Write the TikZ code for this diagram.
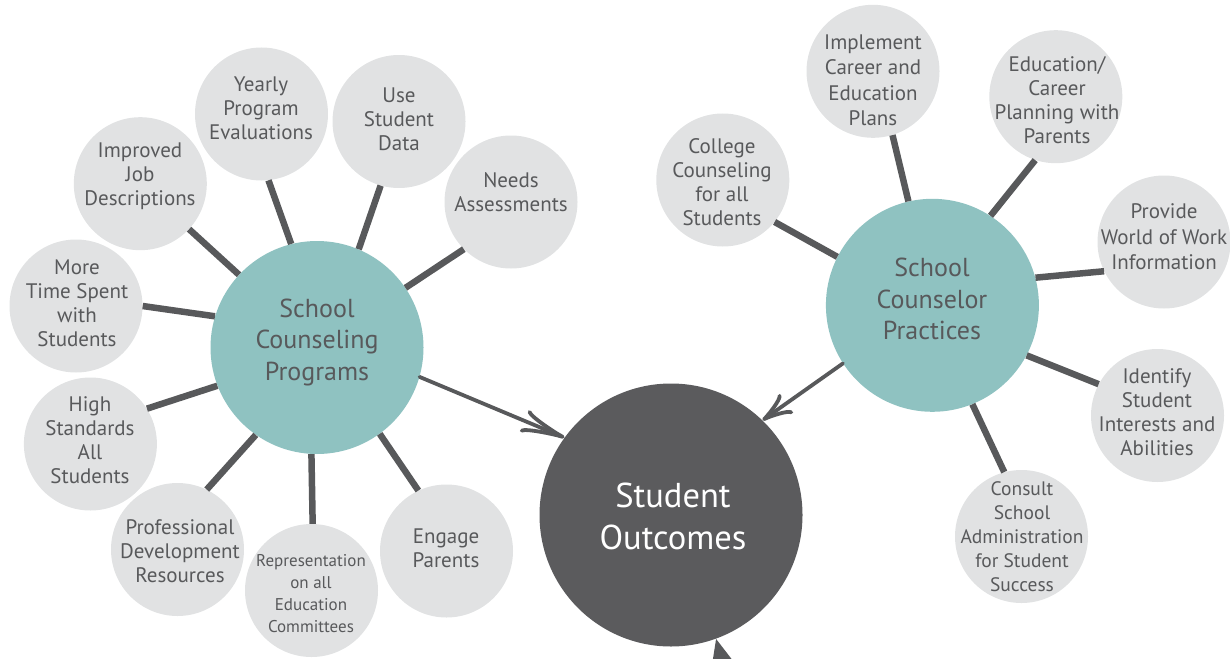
\documentclass[tikz,border=0pt]{standalone}
\usepackage{fontspec}
\setmainfont{PT Sans}
\usetikzlibrary{arrows.meta}
\definecolor{satfill}{HTML}{E1E2E3}
\definecolor{hubfill}{HTML}{8FC2C1}
\definecolor{outfill}{HTML}{5B5B5D}
\definecolor{ink}{HTML}{58595B}
\begin{document}
\begin{tikzpicture}[x=1pt,y=-1pt,
  sat/.style={circle,fill=satfill,minimum size=133pt,inner sep=0pt},
  hub/.style={circle,fill=hubfill,minimum size=213pt,inner sep=0pt},
  outc/.style={circle,fill=outfill,minimum size=263pt,inner sep=0pt},
  txt/.style={align=center,text=ink,inner sep=0pt,font=\fontsize{21}{24}\selectfont},
  txtw/.style={txt,font=\fontsize{21}{25.5}\selectfont},
  txts/.style={txt,font=\fontsize{17}{22}\selectfont},
  txtc/.style={txt,font=\fontsize{19.5}{24}\selectfont},
  hubtxt/.style={align=center,text=ink,inner sep=0pt,font=\fontsize{26}{31.5}\selectfont},
  outtxt/.style={align=center,text=white,inner sep=0pt,font=\fontsize{34.5}{42}\selectfont},
  spoke/.style={draw=ink,line width=6.5pt},
  arrL/.style={draw=ink,line width=3.8pt,line cap=round,-{Classical TikZ Rightarrow[length=44pt,width=24pt,line width=3.8pt]}},
  arrR/.style={draw=ink,line width=3.8pt,line cap=round,-{Classical TikZ Rightarrow[length=30pt,width=24pt,line width=3.8pt]}},
  arrB/.style={draw=ink,fill=ink,line width=4pt,-{Triangle[length=34pt,width=28pt]}}
]
\useasboundingbox (0,0) rectangle (1230,658);
\clip (0,0) rectangle (1230,658);

% hubs
\node[hub] (P) at (317,347.5) {};
\node[hub] (C) at (932.4,305.3) {};
\node[outc] (O) at (671,515) {};
\node[hubtxt] (P-t) at (317,342) {School\\Counseling\\Programs};
\node[hubtxt] (C-t) at (932,299) {School\\Counselor\\Practices};
\node[outtxt] (O-t) at (673,516) {Student\\Outcomes};

% left satellites
\node[sat] (imp) at (140.3,183.7) {};
\node[txt] (imp-t) at (140,176) {Improved\\Job\\Descriptions};
\node[sat] (yea) at (261.5,114) {};
\node[txt] (yea-t) at (261,108) {Yearly\\Program\\Evaluations};
\node[sat] (use) at (399,121.5) {};
\node[txt] (use-t) at (399,119) {Use\\Student\\Data};
\node[sat] (nee) at (511,202) {};
\node[txt] (nee-t) at (511,192) {Needs\\Assessments};
\node[sat] (mor) at (76,306) {};
\node[txt] (mor-t) at (77,303) {More\\Time Spent\\with\\Students};
\node[sat] (hig) at (90.4,444) {};
\node[txt] (hig-t) at (90,440) {High\\Standards\\All\\Students};
\node[sat] (pro) at (177.5,549.5) {};
\node[txt] (pro-t) at (180,551) {Professional\\Development\\Resources};
\node[sat] (rep) at (311.5,590.5) {};
\node[txts] (rep-t) at (311,594) {Representation\\on all\\Education\\Committees};
\node[sat] (eng) at (446.5,551) {};
\node[txt] (eng-t) at (446,548) {Engage\\Parents};

% right satellites
\node[sat] (col) at (722.8,180) {};
\node[txt] (col-t) at (722,182) {College\\Counseling\\for all\\Students};
\node[sat] (ipl) at (873,71.3) {};
\node[txtw] (ipl-t) at (873,80.5) {Implement\\Career and\\Education\\Plans};
\node[sat] (edu) at (1055.8,96.7) {};
\node[txt] (edu-t) at (1057,100) {Education/\\Career\\Planning with\\Parents};
\node[sat] (prv) at (1164,242) {};
\node[txtw] (prv-t) at (1164,237) {Provide\\World of Work\\Information};
\node[sat] (ide) at (1157.5,415.5) {};
\node[txt] (ide-t) at (1157,412) {Identify\\Student\\Interests and\\Abilities};
\node[sat] (con) at (1021.5,536.5) {};
\node[txtc] (con-t) at (1022,537) {Consult\\School\\Administration\\for Student\\Success};

% spokes left
\draw[spoke] (P.137.7) -- (imp.-43.3);
\draw[spoke] (P.104.2) -- (yea.-84.5);
\draw[spoke] (P.67.8) -- (use.-106.2);
\draw[spoke] (P.34.2) -- (nee.-135.6);
\draw[spoke] (P.163.4) -- (mor.0);
\draw[spoke] (P.201.3) -- (hig.32.1);
\draw[spoke] (P.-125.3) -- (pro.64.1);
\draw[spoke] (P.-93.7) -- (rep.89.7);
\draw[spoke] (P.-54.2) -- (eng.115.9);
% spokes right
\draw[spoke] (C.153.1) -- (col.-39.4);
\draw[spoke] (C.103.3) -- (ipl.-73.8);
\draw[spoke] (C.57.6) -- (edu.-108);
\draw[spoke] (C.15) -- (prv.206.2);
\draw[spoke] (C.-28.3) -- (ide.152);
\draw[spoke] (C.-68.3) -- (con.105.9);

% arrows
\draw[arrL] (P.-16.8) -- (O.144.9);
\draw[arrR] (C.-147.4) -- (O.46.2);
\coordinate (tail) at (742,740);
\draw[arrB] (tail) -- (O.-70.5);
\end{tikzpicture}
\end{document}
